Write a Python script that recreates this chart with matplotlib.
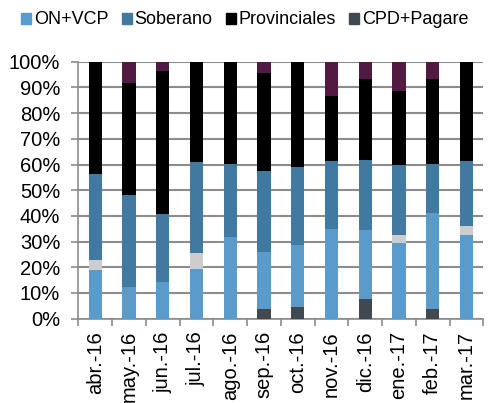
import numpy as np
import matplotlib
matplotlib.use('Agg')
import matplotlib.pyplot as plt
from matplotlib.ticker import PercentFormatter, FixedLocator
from matplotlib.patches import Patch

plt.rcParams['font.family'] = ['Liberation Sans', 'DejaVu Sans']

# months and stacked shares (% of total), bottom to top
months = ['abr.-16', 'may.-16', 'jun.-16', 'jul.-16', 'ago.-16', 'sep.-16',
          'oct.-16', 'nov.-16', 'dic.-16', 'ene.-17', 'feb.-17', 'mar.-17']
cpd_pagare   = [0.0, 0.0, 0.0, 0.0, 0.0, 3.6, 4.4, 0.0, 7.5, 0.0, 3.9, 0.0]
on_vcp       = [19.0, 12.2, 14.2, 19.2, 31.7, 22.2, 24.3, 34.9, 26.9, 29.3, 37.1, 32.6]
otros        = [3.7, 0.0, 0.0, 6.5, 0.0, 0.0, 0.0, 0.0, 0.0, 3.3, 0.0, 3.5]
soberano     = [33.6, 35.9, 26.5, 35.3, 28.4, 31.8, 30.5, 26.5, 27.4, 27.2, 19.1, 25.3]
provinciales = [43.7, 43.7, 55.8, 39.0, 39.9, 37.9, 40.8, 25.1, 31.6, 28.9, 33.3, 38.6]
letras       = [0.0, 8.2, 3.5, 0.0, 0.0, 4.5, 0.0, 13.5, 6.6, 11.3, 6.6, 0.0]

series = [
    ('CPD+Pagare', cpd_pagare, '#404950'),
    ('ON+VCP', on_vcp, '#5b9bcb'),
    ('_otros', otros, '#cdcdcd'),
    ('Soberano', soberano, '#417aa0'),
    ('Provinciales', provinciales, '#000000'),
    ('_letras', letras, '#521942'),
]

x = np.arange(len(months))
fig = plt.figure(figsize=(4.89, 4.03), dpi=100)
ax = fig.add_axes([78.3/489, 1 - 318.7/403, 405/489, 257/403])

bottom = np.zeros(len(months))
for name, vals, col in series:
    vals = np.array(vals)
    ax.bar(x, vals, width=0.39, bottom=bottom, color=col, zorder=3)
    bottom += vals

ax.set_xlim(-0.5, len(months) - 0.5)
ax.set_ylim(0, 100)
ax.set_yticks(np.arange(0, 101, 10))
ax.yaxis.set_major_formatter(PercentFormatter(decimals=0))
ax.grid(axis='y', color='#8c8c8c', linewidth=1.5, zorder=0)
ax.set_axisbelow(True)

ax.set_xticks(x)
ax.set_xticklabels(months, rotation=90)
ax.xaxis.set_minor_locator(FixedLocator(np.arange(-0.5, len(months), 1)))
ax.tick_params(axis='x', which='major', length=0, pad=9, labelsize=14.5)
ax.tick_params(axis='x', which='minor', length=5, width=1.2, color='#8c8c8c')
ax.tick_params(axis='y', length=5, width=1.2, color='#8c8c8c', labelsize=14.5, pad=8)

for s in ['top', 'right']:
    ax.spines[s].set_visible(False)
for s in ['left', 'bottom']:
    ax.spines[s].set_color('#8c8c8c')
    ax.spines[s].set_linewidth(1.2)

legend_items = [('ON+VCP', '#5b9bcb'), ('Soberano', '#417aa0'),
                ('Provinciales', '#000000'), ('CPD+Pagare', '#404950')]
patches = [Patch(color=c, label=l) for l, c in legend_items]
fig.legend(handles=patches, loc='center left', bbox_to_anchor=(21/489, 1 - 20/403), ncol=4,
           frameon=False, fontsize=13, handlelength=0.55, handleheight=0.55,
           handletextpad=0.15, columnspacing=0.75, borderaxespad=0, borderpad=0)

fig.savefig('out.png', dpi=100)
